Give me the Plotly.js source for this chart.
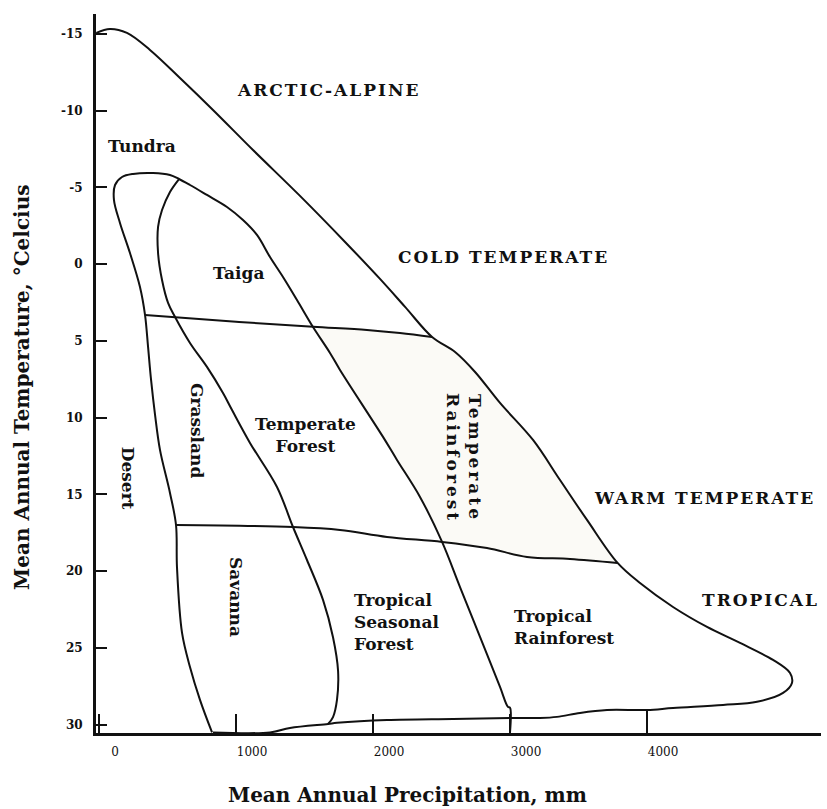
<!DOCTYPE html>
<html>
<head>
<meta charset="utf-8">
<script src="https://cdn.plot.ly/plotly-3.0.1.min.js"></script>
<style>
html,body{margin:0;padding:0;background:#fff;}
#chart{width:827px;height:809px;}
</style>
</head>
<body>
<div id="chart"></div>
<script>
// ---- Data (mean annual precipitation in mm, mean annual temperature in °C) ----
const precipTicks = [0, 1000, 2000, 3000, 4000];
const precipTickText = ['0', '1000', '2000', '3000', '4000'];
const tempTicks = [-15, -10, -5, 0, 5, 10, 15, 20, 25, 30];
const tempTickText = ['-15', '-10', '-5', '0', '5', '10', '15', '20', '25', '30'];

// Outer envelope of all biomes
const outerPrecip = [-20, 80, 204, 372, 591, 832, 1124, 1467, 1796, 2051, 2234, 2431, 2599, 2745, 2927, 3168, 3365, 3562, 3785, 3949, 4190, 4438, 4679, 4920, 5044, 5058, 4993, 4803, 4555, 4190, 4000, 3708, 3511, 3343, 3219, 3000, 2584, 2102, 1737, 1672, 1394, 1248, 832];
const outerTemp = [-15.07, -15.33, -15.07, -13.96, -12.13, -10.05, -7.44, -4.45, -1.45, 0.96, 2.78, 4.74, 5.72, 7.02, 9.04, 11.45, 14.06, 16.66, 19.46, 20.77, 22.33, 23.63, 24.67, 25.78, 26.63, 27.28, 27.93, 28.51, 28.71, 28.91, 29.04, 29.04, 29.23, 29.49, 29.56, 29.56, 29.62, 29.69, 29.88, 29.95, 30.21, 30.5, 30.5];

// Desert / tundra loop continuing as the taiga - forest - rainforest boundary
const loopPrecip = [825, 737, 664, 606, 569, 562, 518, 445, 409, 380, 358, 336, 299, 226, 153, 109, 117, 168, 248, 394, 518, 584, 664, 788, 934, 1051, 1153, 1248, 1343, 1445, 1562, 1686, 1759, 2073, 2175, 2343, 2504, 2635, 2781, 2927, 2985, 3000, 3000];
const loopTemp = [30.5, 28.38, 26.24, 24.02, 19.72, 16.99, 14.90, 12.10, 9.82, 7.54, 5.39, 3.31, 1.48, -0.73, -2.69, -4.19, -5.16, -5.68, -5.88, -5.94, -5.81, -5.55, -5.16, -4.51, -3.73, -2.88, -1.91, -0.47, 0.83, 2.33, 4.09, 5.78, 6.89, 11.25, 12.75, 15.16, 18.09, 21.03, 24.28, 27.54, 28.84, 28.9, 30.5];

// Taiga / grassland / savanna boundary
const grassPrecip = [584, 518, 460, 431, 431, 460, 504, 555, 664, 788, 905, 971, 1102, 1299, 1416, 1518, 1635, 1708, 1745, 1737, 1708, 1672];
const grassTemp = [-5.55, -4.71, -3.53, -2.43, -0.73, 1.03, 2.52, 3.44, 5.13, 6.69, 8.39, 9.50, 11.64, 14.51, 17.12, 19.27, 21.87, 24.3, 26.5, 28.38, 29.5, 29.95];

// Cold / warm boundary (~4 °C) and warm / tropical boundary (~17-19 °C)
const coldLinePrecip = [336, 1000, 1562, 1956, 2197, 2431];
const coldLineTemp = [3.31, 3.75, 4.07, 4.28, 4.48, 4.74];
const warmLinePrecip = [562, 1416, 1759, 2102, 2504, 2832, 3124, 3438, 3785];
const warmLineTemp = [16.99, 17.12, 17.31, 17.77, 18.09, 18.49, 19.07, 19.20, 19.46];

// Short divider at the base of the tropical rainforest
const baseLinePrecip = [4000, 4000];
const baseLineTemp = [29.04, 30.5];

// Temperate rainforest (shaded area)
const shadePrecip = [1562, 1956, 2197, 2431, 2599, 2745, 2927, 3168, 3365, 3562, 3785, 3438, 3124, 2832, 2504, 2343, 2175, 2073, 1759, 1686, 1562];
const shadeTemp = [4.07, 4.28, 4.48, 4.74, 5.72, 7.02, 9.04, 11.45, 14.06, 16.66, 19.46, 19.20, 19.07, 18.49, 18.09, 15.16, 12.75, 11.25, 6.89, 5.78, 4.09];

// Region labels
const labelText = ['ARCTIC-ALPINE', 'Tundra', 'Taiga', 'COLD TEMPERATE', 'Temperate<br>Forest', 'Grassland', 'Desert', 'Temperate<br>Rainforest', 'WARM TEMPERATE', 'Savanna', 'Tropical<br>Seasonal<br>Forest', 'Tropical<br>Rainforest', 'TROPICAL'];
const labelPrecip = [1672, 314, 1015, 2956, 1504, 715, 213, 2664, 4416, 1000, 1847, 3015, 4825];
const labelTemp = [-11.35, -7.70, 0.57, -0.47, 11.12, 10.86, 13.92, 12.62, 15.23, 21.68, 23.31, 23.63, 21.87];

// ---- Styling ----
const FONT = 'DejaVu Serif, Liberation Serif, serif';
const lineStyle = {color: '#111', width: 2, shape: 'spline', smoothing: 1};

function curve(x, y, extra) {
  return Object.assign({type: 'scatter', mode: 'lines', x: x, y: y, line: lineStyle, hoverinfo: 'skip', showlegend: false}, extra || {});
}

const traces = [
  {type: 'scatter', mode: 'lines', x: shadePrecip, y: shadeTemp, fill: 'toself', fillcolor: '#fbfaf6', line: {width: 0}, hoverinfo: 'skip', showlegend: false},
  curve(outerPrecip, outerTemp),
  curve(loopPrecip, loopTemp),
  curve(grassPrecip, grassTemp),
  curve(coldLinePrecip, coldLineTemp),
  curve(warmLinePrecip, warmLineTemp),
  curve(baseLinePrecip, baseLineTemp, {line: {color: '#111', width: 2}})
];

const caps = {0: true, 3: true, 8: true, 12: true};
const angles = {5: 90, 6: 90, 7: 90, 9: 90};
const leftAligned = {10: true, 11: true};
const annotations = labelText.map(function (t, i) {
  let txt = t;
  if (caps[i]) txt = '<span style="letter-spacing:2px">' + t + '</span>';
  if (i === 7) txt = '<span style="letter-spacing:3px">' + t + '</span>';
  return {
    x: labelPrecip[i], y: labelTemp[i], xref: 'x', yref: 'y',
    text: txt, showarrow: false,
    textangle: angles[i] || 0,
    xanchor: leftAligned[i] ? 'left' : 'center',
    align: leftAligned[i] ? 'left' : 'center',
    font: {family: FONT, size: 17, color: '#111', weight: 'bold'}
  };
});
annotations.push({
  xref: 'paper', yref: 'paper', x: 0.429, y: -0.086, xanchor: 'center', yanchor: 'middle',
  text: 'Mean Annual Precipitation, mm', showarrow: false,
  font: {family: FONT, size: 20, color: '#111', weight: 'bold'}
});
annotations.push({
  xref: 'paper', yref: 'paper', x: -0.102, y: 0.48, xanchor: 'center', yanchor: 'middle',
  text: 'Mean Annual Temperature, °Celcius', textangle: -90, showarrow: false,
  font: {family: FONT, size: 20, color: '#111', weight: 'bold'}
});

const layout = {
  width: 827, height: 809,
  margin: {l: 96, r: 6, t: 14, b: 76},
  paper_bgcolor: '#fff', plot_bgcolor: '#fff',
  font: {family: FONT, color: '#111'},
  showlegend: false,
  xaxis: {
    range: [-22, 5270], tickvals: precipTicks, ticktext: precipTickText,
    ticks: 'inside', ticklen: 19, tickwidth: 2, tickcolor: '#111',
    showline: true, linecolor: '#111', linewidth: 3, showgrid: false, zeroline: false,
    ticklabelshift: 16, ticklabelstandoff: 6,
    tickfont: {family: FONT, size: 12, color: '#111'}
  },
  yaxis: {
    range: [30.54, -16.30], tickvals: tempTicks, ticktext: tempTickText,
    ticks: 'inside', ticklen: 11, tickwidth: 2, tickcolor: '#111',
    showline: true, linecolor: '#111', linewidth: 3, showgrid: false, zeroline: false,
    ticklabelstandoff: 8,
    tickfont: {family: FONT, size: 12, color: '#111', weight: 'bold'}
  },
  annotations: annotations
};

Plotly.newPlot('chart', traces, layout, {staticPlot: true, displayModeBar: false});
</script>
</body>
</html>
